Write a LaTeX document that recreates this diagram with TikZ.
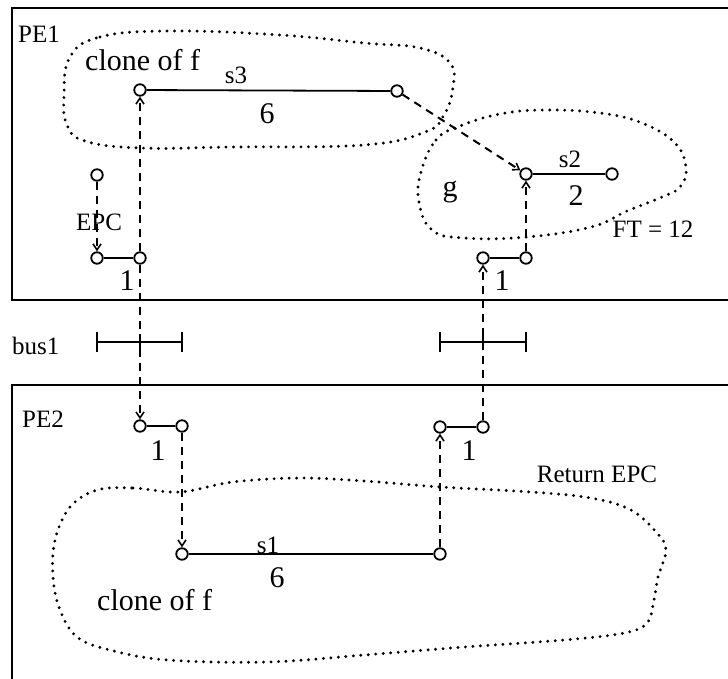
\documentclass[tikz,border=0pt]{standalone}
\usepackage{fontspec}
\setmainfont{Liberation Serif}
\usetikzlibrary{arrows.meta}
\begin{document}
\begin{tikzpicture}[x=1pt,y=-1pt,
  pt/.style={circle,draw,line width=1.8pt,minimum size=11.5pt,inner sep=0pt},
  task/.style={line width=1.8pt},
  msg/.style={line width=2pt,dash pattern=on 8pt off 6pt,-{Straight Barb[length=6pt,width=8pt,line width=1.6pt]}},
  region/.style={line width=3.2pt,dash pattern=on 0pt off 7.5pt,line cap=round},
  big/.style={font=\fontsize{30}{32}\selectfont,inner sep=0pt},
  small/.style={font=\fontsize{25}{27}\selectfont,inner sep=0pt},
  frame/.style={line width=2.2pt},
  busbar/.style={line width=1.8pt}]
\useasboundingbox (0,0) rectangle (728,678);
\clip (0,0) rectangle (728,678);
% frames
\draw[frame] (740,8) -- (12,8) -- (12,300) -- (740,300);
\draw[frame] (740,385) -- (12,385) -- (12,690);
% regions
\draw[region] plot[smooth cycle,tension=0.7] coordinates {(70,57) (100,37) (170,31) (280,35) (364,43) (420,48) (450,63) (453,87) (444,115) (425,132) (364,145) (233,147) (140,148) (85,141) (67,125) (64,95)};
\draw[region] plot[smooth cycle,tension=0.7] coordinates {(421,172) (436,140) (460,126) (500,114) (545,110) (600,113) (642,123) (675,143) (686,168) (680,187) (662,197) (627,211) (591,227) (527,237) (464,238) (432,230) (419,202)};
\draw[region] plot[smooth cycle,tension=0.6] coordinates {(97,490) (133,488) (180,492) (233,482) (300,478) (364,481) (441,487) (531,492) (591,498) (631,510) (657,533) (666,550) (658,577) (654,600) (647,623) (624,633) (564,640) (464,647) (364,655) (267,662) (167,660) (110,650) (77,637) (60,610) (53,577) (55,540) (70,507)};
% points
\node[pt] (s3a) at (140,90) {};
\node[pt] (s3b) at (397,91) {};
\node[pt] (s2a) at (526,174) {};
\node[pt] (s2b) at (612,174) {};
\node[pt] (e0) at (97,175) {};
\node[pt] (a1) at (97,258) {};
\node[pt] (a2) at (140,258) {};
\node[pt] (c1) at (483,258) {};
\node[pt] (c2) at (526,258) {};
\node[pt] (b1) at (140,426) {};
\node[pt] (b2) at (182,426) {};
\node[pt] (b3) at (440,427) {};
\node[pt] (b4) at (483,427) {};
\node[pt] (s1a) at (182,554) {};
\node[pt] (s1b) at (440,554) {};
% tasks
\draw[task] (s3a) -- (s3b);
\draw[task] (s2a) -- (s2b);
\draw[task] (a1) -- (a2);
\draw[task] (c1) -- (c2);
\draw[task] (b1) -- (b2);
\draw[task] (b3) -- (b4);
\draw[task] (s1a) -- (s1b);
% messages
\draw[msg] (e0) -- (a1);
\draw[msg] (a2) -- (s3a);
\draw[msg] (a2) -- (b1);
\draw[msg] (b2) -- (s1a);
\draw[msg] (s1b) -- (b3);
\draw[msg] (b4) -- (c1);
\draw[msg] (c2) -- (s2a);
\draw[msg] (s3b) -- (s2a);
% buses
\coordinate (u1) at (97,342); \coordinate (u2) at (182,342); \coordinate (u0) at (140,342);
\coordinate (v1) at (440,342); \coordinate (v2) at (526,342); \coordinate (v0) at (483,342);
\draw[busbar] (u1) -- (u2);
\draw[busbar] ([yshift=-10pt]u1) -- ([yshift=10pt]u1);
\draw[busbar] ([yshift=-10pt]u2) -- ([yshift=10pt]u2);
\draw[busbar] ([yshift=-8pt]u0) -- ([yshift=8pt]u0);
\draw[busbar] (v1) -- (v2);
\draw[busbar] ([yshift=-10pt]v1) -- ([yshift=10pt]v1);
\draw[busbar] ([yshift=-10pt]v2) -- ([yshift=10pt]v2);
\draw[busbar] ([yshift=-8pt]v0) -- ([yshift=8pt]v0);
% labels
\node[small,anchor=base west] (lpe1) at (18,42) {PE1};
\node[small,anchor=base west] (lpe2) at (22,427) {PE2};
\node[small,anchor=base west] (lbus) at (12,354) {bus1};
\node[big,anchor=base west] (lcf1) at (85,70) {clone of f};
\node[small,anchor=base] (ls3) at (236,83) {s3};
\node[big,anchor=base] (l6a) at (267,123) {6};
\node[small,anchor=base] (lepc) at (99,230) {EPC};
\node[big,anchor=base] (l1a) at (127,290) {1};
\node[big,anchor=base] (lg) at (450,196) {g};
\node[small,anchor=base] (ls2) at (570,167) {s2};
\node[big,anchor=base] (l2) at (576,205) {2};
\node[small,anchor=base] (lft) at (653,237) {FT = 12};
\node[big,anchor=base] (l1b) at (502,290) {1};
\node[big,anchor=base] (l1c) at (158,460) {1};
\node[big,anchor=base] (l1d) at (469,460) {1};
\node[small,anchor=base] (lret) at (597,482) {Return EPC};
\node[small,anchor=base] (ls1) at (268,553) {s1};
\node[big,anchor=base] (l6b) at (277,587) {6};
\node[big,anchor=base west] (lcf2) at (97,610) {clone of f};
\end{tikzpicture}
\end{document}
